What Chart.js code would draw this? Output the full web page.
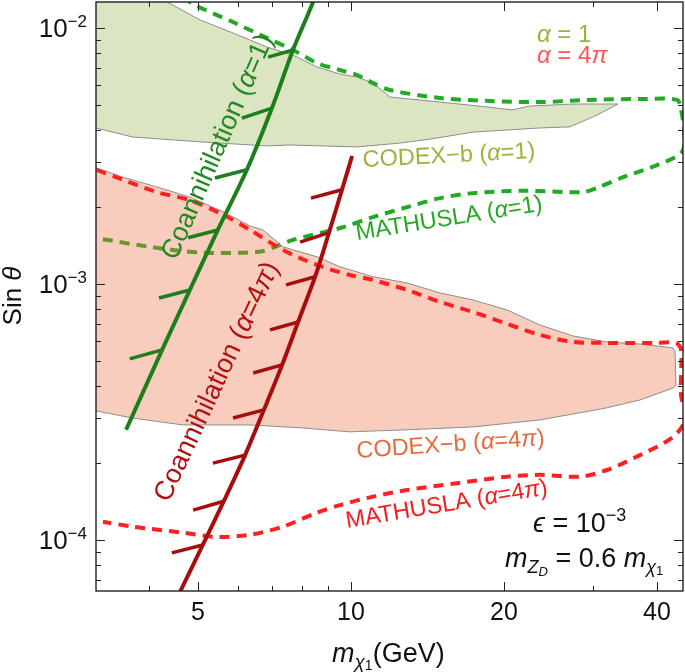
<!DOCTYPE html>
<html>
<head>
<meta charset="utf-8">
<script src="https://cdn.jsdelivr.net/npm/chart.js@4.4.0/dist/chart.umd.min.js"></script>
<style>
  html, body { margin: 0; padding: 0; background: #fff; }
  canvas { display: block; }
</style>
</head>
<body>
<canvas id="chart" width="685" height="672"></canvas>
<script>
// axis ticks
const xMajorTicks = [5, 10, 20, 40];
const xMinorTicks = [4, 6, 7, 8, 9, 30];
const yMajorTicks = [1e-4, 1e-3, 1e-2];
const yMajorExp = ["−4", "−3", "−2"];
const yMinorTicks = [7e-5, 8e-5, 9e-5, 2e-4, 3e-4, 4e-4, 5e-4, 6e-4, 7e-4, 8e-4, 9e-4,
  2e-3, 3e-3, 4e-3, 5e-3, 6e-3, 7e-3, 8e-3, 9e-3];

// CODEX-b (alpha = 1) region, closed outline
const codexA1Mass = [3.0, 4.2, 4.35, 5.05, 5.86, 6.83, 7.69, 8.57, 9.51, 10.28, 11.05, 11.93, 14.97,
  18.52, 20.74, 22.5, 27.33, 33.52, 30.48, 26.96, 23.54, 17.38, 14.3, 12.48, 10.28, 7.59, 6.83,
  5.05, 3.72, 3.15, 3.0];
const codexA1Sin = [0.014, 0.014, 0.01267, 0.01077, 0.00959, 0.00845, 0.00786, 0.00706, 0.00663,
  0.00645, 0.00611, 0.00539, 0.00515, 0.00493, 0.0048, 0.00497, 0.00506, 0.00506, 0.00458, 0.00412,
  0.00408, 0.00393, 0.00369, 0.00356, 0.00344, 0.0035, 0.00347, 0.0036, 0.00376, 0.00408, 0.00419];

// CODEX-b (alpha = 4pi) region, closed outline
const codexA4Mass = [3.0, 3.15, 3.56, 4.15, 4.82, 5.6, 6.33, 6.71, 7.35, 8.57, 9.51, 11.05, 12.89,
  14.97, 17.38, 20.27, 23.54, 27.33, 31.89, 37.03, 43.01, 43.4, 43.6, 43.01, 37.03, 31.89, 23.54,
  17.38, 12.89, 9.95, 7.94, 6.33, 4.67, 3.72, 3.15, 3.0];
const codexA4Sin = [2.95e-3, 2.85e-3, 2.62e-3, 2.4e-3, 2.19e-3, 1.92e-3, 1.69e-3, 1.63e-3, 1.4e-3,
  1.28e-3, 1.17e-3, 1.07e-3, 1.012e-3, 9.25e-4, 8.68e-4, 7.94e-4, 6.93e-4, 6.28e-4, 5.95e-4, 5.84e-4,
  5.64e-4, 5.44e-4, 4.04e-4, 3.93e-4, 3.53e-4, 3.29e-4, 2.95e-4, 2.77e-4, 2.7e-4, 2.65e-4, 2.75e-4,
  2.82e-4, 2.82e-4, 3.0e-4, 3.2e-4, 3.29e-4];

// MATHUSLA (alpha = 1) contour
const mathA1Mass = [3.25, 4.02, 5.05, 6.62, 7.15, 7.69, 9.64, 11.05, 12.89, 14.97, 17.38, 21.8, 28.6,
  30.48, 34.3, 40.0, 44.8, 45.2, 44.6, 43.8, 37.03, 29.1, 23.54, 18.8, 14.97, 11.93, 11.05, 10.28,
  9.51, 8.57, 7.69, 6.83, 5.86, 4.82, 4.65];
const mathA1Sin = [1.5e-3, 1.4e-3, 1.33e-3, 1.34e-3, 1.41e-3, 1.49e-3, 1.67e-3, 1.83e-3, 2.0e-3,
  2.17e-3, 2.27e-3, 2.32e-3, 2.29e-3, 2.38e-3, 2.62e-3, 2.92e-3, 3.29e-3, 4.0e-3, 4.8e-3, 5.25e-3,
  5.29e-3, 5.25e-3, 5.15e-3, 5.2e-3, 5.34e-3, 5.74e-3, 6.11e-3, 6.57e-3, 6.87e-3, 7.32e-3, 8.23e-3,
  9.17e-3, 1.058e-2, 1.267e-2, 1.41e-2];

// MATHUSLA (alpha = 4pi) contour
const mathA4Mass = [3.16, 3.56, 4.15, 4.82, 5.6, 6.33, 7.35, 8.57, 9.95, 11.05, 12.89, 14.97, 17.38,
  20.27, 23.54, 27.33, 31.89, 40.0, 43.6, 44.6, 44.6, 45.6, 43.01, 37.03, 31.89, 28.22, 23.54, 20.27,
  16.16, 12.89, 11.05, 9.51, 8.57, 7.35, 6.33, 5.45, 4.67, 3.72, 3.25];
const mathA4Sin = [2.8e-3, 2.56e-3, 2.29e-3, 2.13e-3, 1.87e-3, 1.63e-3, 1.36e-3, 1.19e-3, 1.087e-3,
  1.039e-3, 9.5e-4, 8.53e-4, 7.79e-4, 7.0e-4, 6.34e-4, 5.95e-4, 5.9e-4, 5.9e-4, 5.9e-4, 5.54e-4,
  3.69e-4, 3.0e-4, 2.53e-4, 2.15e-4, 1.88e-4, 1.77e-4, 1.8e-4, 1.77e-4, 1.67e-4, 1.57e-4, 1.48e-4,
  1.37e-4, 1.28e-4, 1.13e-4, 1.05e-4, 1.03e-4, 1.07e-4, 1.13e-4, 1.18e-4];

// coannihilation lines
const coannA1Mass = [3.61, 4.25, 4.82, 5.47, 6.24, 6.99, 7.69, 8.42, 8.54];
const coannA1Sin = [2.7e-4, 5.54e-4, 9.5e-4, 1.63e-3, 2.8e-3, 4.88e-3, 8.23e-3, 1.267e-2, 1.41e-2];
const coannA4Mass = [10.05, 9.6, 9.05, 8.5, 7.87, 7.32, 6.74, 6.19, 5.62, 5.11, 4.53];
const coannA4Sin = [3.17e-3, 2.34e-3, 1.59e-3, 1.07e-3, 7.12e-4, 4.84e-4, 3.23e-4, 2.15e-4, 1.42e-4,
  9.58e-5, 5.85e-5];

// hatch tips (each joins the coannihilation line at index 1, 2, ...)
const hatchA1Mass = [3.67, 4.19, 4.78, 5.4, 6.1, 6.87];
const hatchA1Sin = [5.11e-4, 8.84e-4, 1.52e-3, 2.6e-3, 4.46e-3, 7.72e-3];
const hatchA4Mass = [8.34, 7.94, 7.45, 6.93, 6.42, 5.86, 5.35, 4.89, 4.44];
const hatchA4Sin = [2.17e-3, 1.46e-3, 9.94e-4, 6.63e-4, 4.5e-4, 3.0e-4, 2.0e-4, 1.31e-4, 8.92e-5];

const FONT = '"Liberation Sans", Arial, sans-serif';
const f = (size, italic) => `${italic ? "italic " : ""}${size}px ${FONT}`;

function pts(xs, ys) {
  return xs.map((m, i) => ({ x: m, y: ys[i] }));
}

function hatches(tipX, tipY, lineX, lineY) {
  const out = [];
  tipX.forEach((m, i) => {
    out.push({ x: m, y: tipY[i] }, { x: lineX[i + 1], y: lineY[i + 1] }, { x: m, y: null });
  });
  return out;
}

function rich(ctx, x, y, parts, color, angle = 0, align = "left") {
  ctx.save();
  ctx.translate(x, y);
  ctx.rotate((angle * Math.PI) / 180);
  ctx.fillStyle = color;
  ctx.textAlign = "left";
  ctx.textBaseline = "alphabetic";
  let w = 0;
  for (const p of parts) {
    ctx.font = p[1];
    w += ctx.measureText(p[0]).width;
  }
  let cx = align === "center" ? -w / 2 : align === "right" ? -w : 0;
  for (const p of parts) {
    ctx.font = p[1];
    ctx.fillText(p[0], cx, p[2] || 0);
    cx += ctx.measureText(p[0]).width;
  }
  ctx.restore();
}

const decor = {
  id: "decor",
  afterDraw(chart) {
    const { ctx, chartArea: a } = chart;
    const xs = chart.scales.x;
    const ys = chart.scales.y;
    ctx.save();
    ctx.strokeStyle = "#222";
    ctx.lineWidth = 1;
    ctx.beginPath();
    const tickX = (v, len) => {
      const px = Math.round(xs.getPixelForValue(v)) + 0.5;
      ctx.moveTo(px, a.bottom); ctx.lineTo(px, a.bottom - len);
      ctx.moveTo(px, a.top); ctx.lineTo(px, a.top + len);
    };
    const tickY = (v, len) => {
      const py = Math.round(ys.getPixelForValue(v)) + 0.5;
      ctx.moveTo(a.left, py); ctx.lineTo(a.left + len, py);
      ctx.moveTo(a.right, py); ctx.lineTo(a.right - len, py);
    };
    xMajorTicks.forEach((v) => tickX(v, 9));
    xMinorTicks.forEach((v) => tickX(v, 5));
    yMajorTicks.forEach((v) => tickY(v, 9));
    yMinorTicks.forEach((v) => tickY(v, 5));
    ctx.stroke();
    ctx.lineWidth = 1.4;
    ctx.strokeRect(a.left, a.top, a.right - a.left, a.bottom - a.top);
    ctx.restore();

    // tick labels
    xMajorTicks.forEach((v) => {
      rich(ctx, xs.getPixelForValue(v), 620, [[String(v), f(25)]], "#111", 0, "center");
    });
    yMajorTicks.forEach((v, i) => {
      const py = ys.getPixelForValue(v);
      rich(ctx, 87, py + 9, [["10", f(26)], [yMajorExp[i], f(17), -10]], "#111", 0, "right");
    });

    // axis titles
    rich(ctx, 332, 662, [["m", f(27, 1)], ["χ", f(19, 1), 6], ["1", f(14), 8], ["(GeV)", f(27)]], "#111");
    rich(ctx, 21, 296, [["Sin ", f(26)], ["θ", f(26, 1)]], "#111", -90, "center");

    // legend-like labels
    rich(ctx, 537, 42, [["α", f(24, 1)], [" = 1", f(24)]], "#9bb53c");
    rich(ctx, 537, 63, [["α", f(24, 1)], [" = 4", f(24)], ["π", f(24, 1)]], "#ff5757");

    // curve labels
    rich(ctx, 363, 167, [["CODEX−b (", f(23.5)], ["α", f(23.5, 1)], ["=1)", f(23.5)]], "#9bb53c", -3);
    rich(ctx, 357, 240, [["MATHUSLA (", f(23.5)], ["α", f(23.5, 1)], ["=1)", f(23.5)]], "#22aa22", -9);
    rich(ctx, 357, 458, [["CODEX−b (", f(23.5)], ["α", f(23.5, 1)], ["=4", f(23.5)], ["π", f(23.5, 1)], [")", f(23.5)]], "#e8693e", -4);
    rich(ctx, 347, 528, [["MATHUSLA (", f(23.5)], ["α", f(23.5, 1)], ["=4", f(23.5)], ["π", f(23.5, 1)], [")", f(23.5)]], "#f42020", -9.5);
    rich(ctx, 225, 150, [["Coannihilation (", f(27)], ["α", f(27, 1)], ["=1)", f(27)]], "#1f8a1f", -66.5, "center");
    rich(ctx, 224, 385, [["Coannihilation (", f(27)], ["α", f(27, 1)], ["=4", f(27)], ["π", f(27, 1)], [")", f(27)]], "#b01010", -65, "center");

    // parameters
    rich(ctx, 533, 532, [["ϵ", f(27, 1)], [" = 10", f(27)], ["−3", f(18), -11]], "#111");
    rich(ctx, 505, 567, [["m", f(27, 1)], ["Z", f(18, 1), 6], ["D", f(13, 1), 9], [" = 0.6 ", f(27)],
      ["m", f(27, 1)], ["χ", f(18, 1), 6], ["1", f(13), 8]], "#111");
  },
};

const common = { pointRadius: 0, pointHoverRadius: 0, borderJoinStyle: "round" };

new Chart(document.getElementById("chart"), {
  type: "line",
  data: {
    datasets: [
      { ...common, data: pts(codexA1Mass, codexA1Sin), borderColor: "#8c8c8c", borderWidth: 1,
        backgroundColor: "#dbe5c2", fill: "shape", tension: 0, order: 10 },
      { ...common, data: pts(mathA1Mass, mathA1Sin), borderColor: "#22aa22", borderWidth: 4,
        borderDash: [10, 7], fill: false, tension: 0.3, order: 9 },
      { ...common, data: pts(codexA4Mass, codexA4Sin), borderColor: "#8c8c8c", borderWidth: 1,
        backgroundColor: "rgba(235,112,69,0.35)", fill: "shape", tension: 0, order: 8 },
      { ...common, data: pts(mathA4Mass, mathA4Sin), borderColor: "#ff2121", borderWidth: 4,
        borderDash: [10, 7], fill: false, tension: 0.3, order: 7 },
      { ...common, data: pts(coannA1Mass, coannA1Sin), borderColor: "#1c7f1c", borderWidth: 4,
        fill: false, tension: 0.3, order: 4 },
      { ...common, data: hatches(hatchA1Mass, hatchA1Sin, coannA1Mass, coannA1Sin), borderColor: "#1c7f1c",
        borderWidth: 3.5, fill: false, tension: 0, spanGaps: false, order: 4 },
      { ...common, data: pts(coannA4Mass, coannA4Sin), borderColor: "#a80d0d", borderWidth: 4,
        fill: false, tension: 0.3, order: 3 },
      { ...common, data: hatches(hatchA4Mass, hatchA4Sin, coannA4Mass, coannA4Sin), borderColor: "#a80d0d",
        borderWidth: 3.5, fill: false, tension: 0, spanGaps: false, order: 3 },
    ],
  },
  options: {
    responsive: false,
    devicePixelRatio: 1,
    animation: false,
    events: [],
    layout: { padding: { left: 0, right: 2, top: 2, bottom: 0 } },
    plugins: { legend: { display: false }, tooltip: { enabled: false } },
    scales: {
      x: {
        type: "logarithmic", min: 3.15, max: 45.0,
        ticks: { display: false }, grid: { display: false }, border: { display: false },
        afterFit(s) { s.height = 81; },
      },
      y: {
        type: "logarithmic", min: 6.33e-5, max: 1.267e-2,
        ticks: { display: false }, grid: { display: false }, border: { display: false },
        afterFit(s) { s.width = 96; },
      },
    },
  },
  plugins: [decor],
});
</script>
</body>
</html>
